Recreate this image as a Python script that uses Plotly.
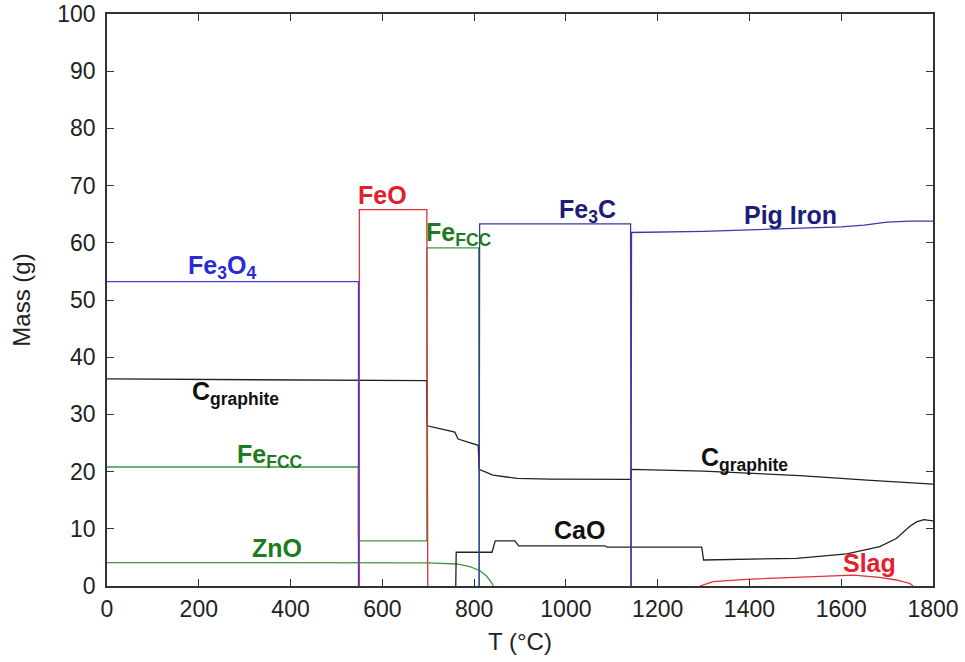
import plotly.graph_objects as go

# ---- data (T in °C, mass in g) ----
fe3o4_T = [0, 548, 548]
fe3o4_m = [53.2, 53.2, 0]

feo_T = [550, 550, 697, 699]
feo_m = [0, 65.8, 65.8, 0]

fefcc_T = [0, 548, 548, 697, 697, 810, 811]
fefcc_m = [20.8, 20.8, 7.9, 7.9, 59.1, 59.1, 0]

zno_T = [0, 700, 762, 791, 813, 827, 838, 842]
zno_m = [4.1, 4.05, 3.85, 3.37, 2.67, 1.75, 0.58, 0]

cgr_T = [0, 697, 698, 758, 765, 809, 811, 841, 893, 965, 1141, 1143, 1300, 1510, 1656, 1800]
cgr_m = [36.2, 35.9, 28.0, 26.9, 25.7, 24.6, 20.4, 19.4, 18.8, 18.7, 18.65, 20.4, 20.1, 19.3, 18.5, 17.8]

cao_T = [760, 761, 839, 846, 889, 897, 1085, 1090, 1296, 1300, 1503, 1612, 1684, 1720, 1749, 1764, 1780, 1800]
cao_m = [0, 5.9, 5.9, 7.9, 7.9, 7.0, 7.0, 6.8, 6.8, 4.55, 4.84, 5.6, 6.87, 8.3, 10.4, 11.2, 11.6, 11.4]

fe3c_T = [811, 812, 1141, 1142]
fe3c_m = [0, 63.3, 63.3, 0]

pig_T = [1142, 1143, 1300, 1500, 1600, 1650, 1700, 1750, 1800]
pig_m = [0, 61.8, 62.0, 62.5, 62.8, 63.1, 63.6, 63.8, 63.8]

slag_T = [1292, 1321, 1393, 1503, 1626, 1684, 1720, 1749, 1757]
slag_m = [0, 0.75, 1.17, 1.5, 1.9, 1.5, 1.05, 0.47, 0]

x_ticks = [0, 200, 400, 600, 800, 1000, 1200, 1400, 1600, 1800]
y_ticks = [0, 10, 20, 30, 40, 50, 60, 70, 80, 90, 100]

labels = [
    ("Fe<sub>3</sub>O<sub>4</sub>", 250, 55.8, "#2b2bd6"),
    ("FeO", 601, 68.4, "#e3202e"),
    ("Fe<sub>FCC</sub>", 768, 61.6, "#1f7a1f"),
    ("Fe<sub>3</sub>C", 1048, 65.6, "#1c1c7a"),
    ("Pig Iron", 1490, 64.9, "#1c1c7a"),
    ("C<sub>graphite</sub>", 280, 33.8, "#111111"),
    ("Fe<sub>FCC</sub>", 355, 22.7, "#1f7a1f"),
    ("ZnO", 370, 6.6, "#1f7a1f"),
    ("CaO", 1030, 9.8, "#111111"),
    ("C<sub>graphite</sub>", 1390, 22.2, "#111111"),
    ("Slag", 1662, 4.0, "#e3202e"),
]

GREEN = "#3c9a3c"
FONT = "Liberation Sans"
fig = go.Figure()
lw = 1.3
fig.add_trace(go.Scatter(x=fefcc_T, y=fefcc_m, mode="lines", line=dict(color=GREEN, width=lw)))
fig.add_trace(go.Scatter(x=zno_T, y=zno_m, mode="lines", line=dict(color=GREEN, width=lw)))
fig.add_trace(go.Scatter(x=cgr_T, y=cgr_m, mode="lines", line=dict(color="#222222", width=lw)))
fig.add_trace(go.Scatter(x=cao_T, y=cao_m, mode="lines", line=dict(color="#222222", width=lw)))
fig.add_trace(go.Scatter(x=slag_T, y=slag_m, mode="lines", line=dict(color="#e0303a", width=lw)))
fig.add_trace(go.Scatter(x=feo_T, y=feo_m, mode="lines", line=dict(color="#e0303a", width=lw)))
fig.add_trace(go.Scatter(x=fe3o4_T, y=fe3o4_m, mode="lines", line=dict(color="#4040e0", width=lw)))
fig.add_trace(go.Scatter(x=fe3c_T, y=fe3c_m, mode="lines", line=dict(color="#3a3aa8", width=lw)))
fig.add_trace(go.Scatter(x=pig_T, y=pig_m, mode="lines", line=dict(color="#3a3aa8", width=lw)))

for txt, x, y, c in labels:
    fig.add_annotation(x=x, y=y, text=txt, showarrow=False,
                       font=dict(family=FONT, size=25, color=c, weight="bold"))

axis_common = dict(showline=True, linecolor="#333333", linewidth=1.5, mirror="ticks",
                   ticks="inside", ticklen=7, tickcolor="#333333", tickwidth=1.3,
                   showgrid=False, zeroline=False, ticklabeloverflow="allow",
                   automargin=False,
                   tickfont=dict(family=FONT, size=23, color="#222222"))
fig.update_xaxes(range=[0, 1800], tickvals=x_ticks, ticklabelstandoff=2,
                 title=dict(text="T (°C)", standoff=12,
                 font=dict(family=FONT, size=24, color="#222222")), **axis_common)
fig.update_yaxes(range=[0, 100], tickvals=y_ticks, ticklabelstandoff=5,
                 title=dict(text="Mass (g)", standoff=20,
                 font=dict(family=FONT, size=24, color="#222222")), **axis_common)
fig.update_layout(width=965, height=662, showlegend=False,
                  plot_bgcolor="white", paper_bgcolor="white",
                  margin=dict(l=107, r=32, t=14, b=76))
fig.write_html("out.html", config={"displayModeBar": False},
               post_script="document.body.style.margin='0';")
